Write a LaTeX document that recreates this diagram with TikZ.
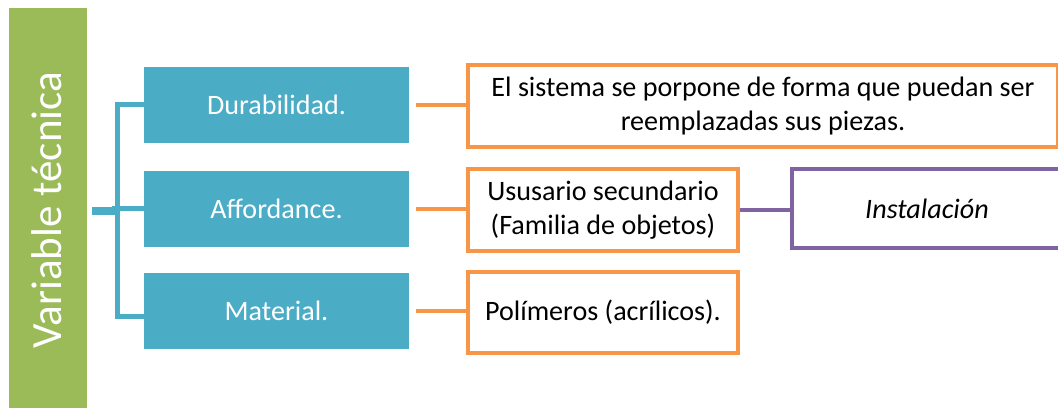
\documentclass[tikz,border=0pt]{standalone}
\usepackage{fontspec}
\setmainfont{Carlito}
\usepackage{xcolor}
\definecolor{techgreen}{RGB}{155, 187, 89}
\definecolor{itemblue}{RGB}{75, 172, 198}
\definecolor{descorange}{RGB}{247, 150, 70}
\definecolor{subpurple}{RGB}{128, 100, 162}

\begin{document}
\begin{tikzpicture}[x=0.02cm, y=-0.02cm,
  itembox/.style={fill=itemblue, text=white, font=\fontsize{16}{19}\selectfont,
    minimum width=5.3cm, minimum height=1.52cm, inner sep=0pt},
  descbox/.style={draw=descorange, line width=0.08cm, fill=white,
    font=\fontsize{16}{19.5}\selectfont, align=center,
    minimum width=5.4cm, minimum height=1.64cm, inner sep=0pt},
  link/.style={descorange, line width=0.08cm}]

  % ── Canvas ───────────────────────────────────────────────────────────
  \useasboundingbox (0,0) rectangle (1058,408);
  \clip (0,0) rectangle (1058,408);

  % ── Title bar (rotated) ──────────────────────────────────────────────
  \fill[techgreen] (9,8) rectangle (87,410);
  \node[rotate=90, text=white, font=\fontsize{24.5}{28}\selectfont]
    (title) at (47,210) {Variable técnica};

  % ── Variables ────────────────────────────────────────────────────────
  \node[itembox] (dur) at (276.5,105) {Durabilidad.};
  \node[itembox] (aff) at (276.5,209) {Affordance.};
  \node[itembox] (mat) at (276.5,311) {Material.};

  % ── Bracket ──────────────────────────────────────────────────────────
  \draw[itemblue, line width=0.1cm]
    (dur.west) -- ++(-26,0) |- ([yshift=-0.12cm]mat.west);
  \coordinate (stub) at (92,211);
  \draw[itemblue, line width=0.17cm] (stub) -- ++(27,0);
  \draw[itemblue, line width=0.1cm] (stub) ++(20,-2) -- (aff.west);

  % ── Descriptions ─────────────────────────────────────────────────────
  \node[descbox, minimum width=11.8cm] (ddur) at (763,106)
    {El sistema se porpone de forma que puedan ser\\reemplazadas sus piezas.};
  \node[descbox] (daff) at (603,210)
    {Ususario secundario\\(Familia de objetos)};
  \node[descbox] (dmat) at (603,312.5) {Polímeros (acrílicos).};
  \node[descbox, draw=subpurple, minimum height=1.58cm,
    font=\fontsize{16}{19.5}\selectfont\itshape] (inst) at (927,208.5)
    {Instalación};

  % ── Links ────────────────────────────────────────────────────────────
  \foreach \a/\b in {dur/ddur, aff/daff, mat/dmat} {
    \draw[link, shorten <=0.14cm] (\a.east) -- (\a.east -| \b.west);
  }
  \draw[subpurple, line width=0.08cm] (daff.east) -- (daff.east -| inst.west);

\end{tikzpicture}
\end{document}
